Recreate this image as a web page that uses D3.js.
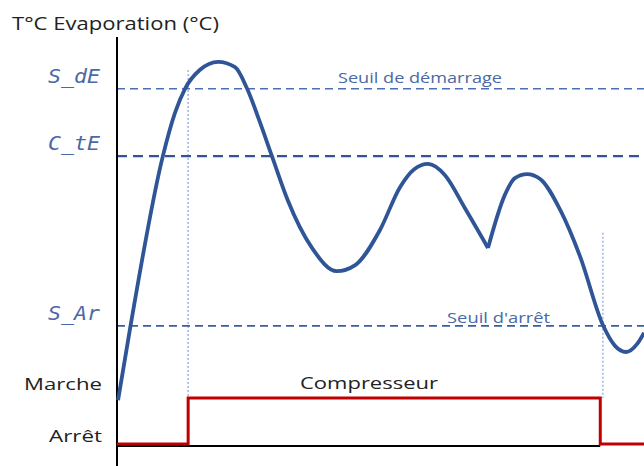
<!DOCTYPE html>
<html lang="fr">
<head>
    <meta charset="utf-8">
    <title>Evaporation</title>
    <script type="text/javascript" src="https://cdn.jsdelivr.net/npm/d3@7"></script>
    <style>
        body { margin: 0; background: #fff; }
        text { font-family: "Open Sans", sans-serif; }
    </style>
</head>
<body>
    <script type="text/javascript">

        // seuils de temperature
        var seuilNoms = ["S_dE", "C_tE", "S_Ar"];
        var seuilValeurs = [87.3, 70.8, 29.2];

        // courbe T°C evaporation : [temps, temperature]
        var montee = [
            [0.2, 11.0], [2.5, 28.7], [8.7, 70.8],
            [11.0, 81.4], [12.9, 87.3], [15.7, 91.9], [19.2, 93.9], [22.4, 92.6],
            [24.7, 87.3], [27.1, 79.2], [29.4, 70.8], [32.4, 60.0], [37.0, 48.3],
            [41.7, 42.6], [45.2, 44.1], [49.9, 52.7], [53.7, 63.2], [56.4, 67.6],
            [59.0, 68.9], [62.2, 66.2], [66.0, 58.1], [70.4, 48.3]
        ];
        var descente = [
            [70.4, 48.3], [73.6, 61.3], [75.5, 65.4], [77.8, 66.4], [80.3, 65.2],
            [84.1, 57.6], [87.9, 46.1], [92.2, 29.4], [94.5, 24.3], [96.6, 22.8],
            [98.7, 24.8], [100, 27.5]
        ];

        // compresseur : [temps, etat]  0 = Arret, 1 = Marche
        var compresseur = [[0, 0], [13.5, 1], [91.7, 0], [100, 0]];
        var etatNoms = ["Arrêt", "Marche"];
        // instants de demarrage / arret : [temps, temperature haut du trait]
        var evenements = [[13.5, 91.9], [92.2, 52.0]];

        var w = 644;
        var h = 466;

        var x = d3.scaleLinear().domain([0, 100]).range([117, 644]);
        var y = d3.scaleLinear().domain([0, 100]).range([445, 37]);
        var yc = d3.scaleLinear().domain([0, 1]).range([444, 398]);

        var svg = d3.select("body")
            .append("svg")
            .attr("width", w)
            .attr("height", h)

        svg.append("text")
            .attr("x", 12).attr("y", 30)
            .attr("font-size", 18).attr("fill", "#222")
            .attr("textLength", 207).attr("lengthAdjust", "spacingAndGlyphs")
            .text("T°C Evaporation (°C)")

        // traits verticaux pointilles
        svg.selectAll("line.evt")
            .data(evenements)
            .enter()
            .append("line")
            .attr("class", "evt")
            .attr("x1", function(d){return x(d[0]);})
            .attr("x2", function(d){return x(d[0]);})
            .attr("y1", function(d){return y(d[1]);})
            .attr("y2", yc(1))
            .attr("stroke", "#8eaadb")
            .attr("stroke-width", 1.3)
            .attr("stroke-dasharray", "2,2")

        // seuils
        var dashes = ["8,5", "10,6", "8,5"];
        var widths = [1.6, 2.4, 1.6];
        var couleurs = ["#4a6fb5", "#2f5597", "#3a5f9f"];

        svg.selectAll("line.seuil")
            .data(seuilValeurs)
            .enter()
            .append("line")
            .attr("class", "seuil")
            .attr("x1", x(0))
            .attr("x2", x(100))
            .attr("y1", function(d){return y(d);})
            .attr("y2", function(d){return y(d);})
            .attr("stroke", function(d, i){return couleurs[i];})
            .attr("stroke-width", function(d, i){return widths[i];})
            .attr("stroke-dasharray", function(d, i){return dashes[i];})

        svg.selectAll("text.seuil")
            .data(seuilValeurs)
            .enter()
            .append("text")
            .attr("class", "seuil")
            .attr("x", 48)
            .attr("y", function(d){return y(d) - 6;})
            .attr("font-size", 20)
            .attr("font-style", "italic")
            .style("font-family", "'DejaVu Sans Mono', monospace")
            .attr("fill", "#4a69a6")
            .attr("textLength", 52).attr("lengthAdjust", "spacingAndGlyphs")
            .text(function(d, i){return seuilNoms[i];})

        svg.append("text")
            .attr("x", 338).attr("y", y(seuilValeurs[0]) - 6)
            .attr("font-size", 14.5).attr("fill", "#4a69a6")
            .attr("textLength", 164).attr("lengthAdjust", "spacingAndGlyphs")
            .text("Seuil de démarrage")

        svg.append("text")
            .attr("x", 447).attr("y", y(seuilValeurs[2]) - 3)
            .attr("font-size", 14.5).attr("fill", "#4a69a6")
            .attr("textLength", 103).attr("lengthAdjust", "spacingAndGlyphs")
            .text("Seuil d'arrêt")

        // axes
        svg.append("line")
            .attr("x1", x(0)).attr("x2", x(0))
            .attr("y1", 37).attr("y2", h)
            .attr("stroke", "#000").attr("stroke-width", 2)

        svg.append("line")
            .attr("x1", x(0)).attr("x2", x(compresseur[2][0]))
            .attr("y1", 446).attr("y2", 446)
            .attr("stroke", "#000").attr("stroke-width", 2)

        svg.selectAll("text.etat")
            .data(etatNoms)
            .enter()
            .append("text")
            .attr("class", "etat")
            .attr("x", 102)
            .attr("y", function(d, i){return yc(i) - (i ? 8 : 2);})
            .attr("text-anchor", "end")
            .attr("font-size", 17).attr("fill", "#222")
            .attr("textLength", function(d, i){return i ? 78 : 53;})
            .attr("lengthAdjust", "spacingAndGlyphs")
            .text(function(d){return d;})

        svg.append("text")
            .attr("x", 300).attr("y", yc(1) - 9)
            .attr("font-size", 17).attr("fill", "#222")
            .attr("textLength", 138).attr("lengthAdjust", "spacingAndGlyphs")
            .text("Compresseur")

        // compresseur
        var lineComp = d3.line()
            .x(function(d){return x(d[0]);})
            .y(function(d){return yc(d[1]);})
            .curve(d3.curveStepAfter)

        svg.append("path")
            .datum(compresseur)
            .attr("d", lineComp)
            .attr("fill", "none")
            .attr("stroke", "#c00000")
            .attr("stroke-width", 3)

        // temperature
        var lineT = d3.line()
            .x(function(d){return x(d[0]);})
            .y(function(d){return y(d[1]);})
            .curve(d3.curveMonotoneX)

        svg.selectAll("path.temp")
            .data([montee, descente])
            .enter()
            .append("path")
            .attr("class", "temp")
            .attr("d", lineT)
            .attr("fill", "none")
            .attr("stroke", "#2f5597")
            .attr("stroke-width", 3.8)
            .attr("stroke-linejoin", "round")

    </script>
</body>
</html>
